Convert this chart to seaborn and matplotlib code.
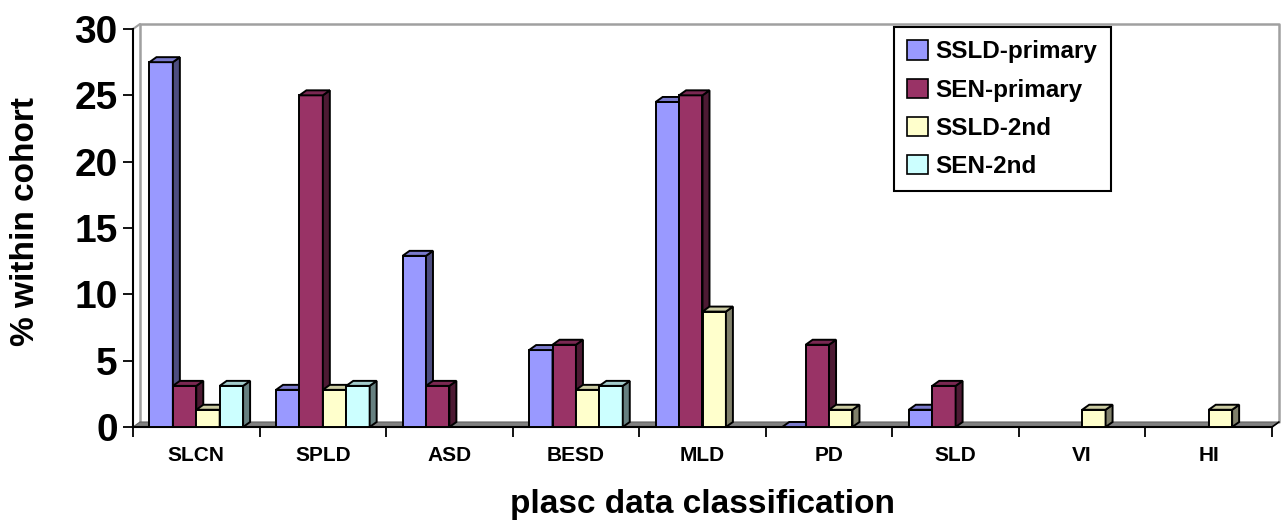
import numpy as np
import pandas as pd
import matplotlib
matplotlib.use("Agg")
import matplotlib.pyplot as plt
import seaborn as sns
from matplotlib.patches import Polygon

nan = np.nan
categories = ["SLCN", "SPLD", "ASD", "BESD", "MLD", "PD", "SLD", "VI", "HI"]
series = ["SSLD-primary", "SEN-primary", "SSLD-2nd", "SEN-2nd"]
ssld_primary = [27.5, 2.8, 12.9, 5.8, 24.5, 0.0, 1.3, nan, nan]
sen_primary = [3.1, 25.0, 3.1, 6.2, 25.0, 6.2, 3.1, nan, nan]
ssld_2nd = [1.3, 2.8, nan, 2.8, 8.7, 1.3, nan, 1.3, 1.3]
sen_2nd = [3.1, 3.1, nan, 3.1, nan, nan, nan, nan, nan]
y_ticks = [0, 5, 10, 15, 20, 25, 30]

front_colors = ["#9999FF", "#993366", "#FFFFCC", "#CCFFFF"]
side_colors = ["#4D4D80", "#4D1A33", "#80806A", "#668080"]
top_colors = ["#7A7ACC", "#7A2852", "#CCCCA3", "#A3CCCC"]

rows = []
for s, vals in zip(series, [ssld_primary, sen_primary, ssld_2nd, sen_2nd]):
    for c, v in zip(categories, vals):
        if not np.isnan(v):
            rows.append({"category": c, "series": s, "value": v})
df = pd.DataFrame(rows)

sns.set_theme(style="white")
plt.rcParams["font.family"] = ["Liberation Sans", "DejaVu Sans"]
plt.rcParams["font.weight"] = "bold"
for key in ["text.color", "axes.labelcolor", "xtick.color", "ytick.color"]:
    plt.rcParams[key] = "black"

W, H, DPI = 1281, 522, 100
fig = plt.figure(figsize=(W / DPI, H / DPI), dpi=DPI)
ax_l, ax_r, ax_b, ax_t = 133, 1272, 427, 29
ax = fig.add_axes([ax_l / W, (H - ax_b) / H, (ax_r - ax_l) / W, (ax_b - ax_t) / H])

sns.barplot(data=df, x="category", y="value", hue="series", order=categories,
            hue_order=series, palette=dict(zip(series, front_colors)),
            width=0.74, errorbar=None, saturation=1, edgecolor="black",
            linewidth=1.4, ax=ax, legend=True)

ax.set_xlim(-0.5, len(categories) - 0.5)
ax.set_ylim(0, 30)

# pixel -> data conversions for the 3D effect
xu = (len(categories)) / (ax_r - ax_l)
yu = 30.0 / (ax_b - ax_t)
dx, dy = 7 * xu, 5 * yu

# floor and back walls
x0, x1 = -0.5, len(categories) - 0.5
ax.add_patch(Polygon([(x0, 0), (x1, 0), (x1 + dx, dy), (x0 + dx, dy)],
                     closed=True, facecolor="#808080", edgecolor="#606060",
                     linewidth=0.8, zorder=1, clip_on=False))
ax.plot([x0 + dx, x0 + dx, x1 + dx, x1 + dx], [dy, 30 + dy, 30 + dy, dy],
        color="#A0A0A0", linewidth=1.8, zorder=0.9, clip_on=False)
ax.plot([x0, x0 + dx], [30, 30 + dy], color="#A0A0A0", linewidth=1.5,
        zorder=0.9, clip_on=False)
ax.plot([x1, x1 + dx], [0, dy], color="black", linewidth=1.2, zorder=1.2,
        clip_on=False)

for k, cont in enumerate(ax.containers):
    for p in cont.patches:
        bx, bw, bh = p.get_x(), p.get_width(), p.get_height()
        p.set_zorder(2 + k)
        side = Polygon([(bx + bw, 0), (bx + bw + dx, dy), (bx + bw + dx, bh + dy), (bx + bw, bh)],
                       closed=True, facecolor=side_colors[k], edgecolor="black",
                       linewidth=1.4, zorder=2 + k + 0.5, clip_on=False)
        top = Polygon([(bx, bh), (bx + dx, bh + dy), (bx + bw + dx, bh + dy), (bx + bw, bh)],
                      closed=True, facecolor=top_colors[k], edgecolor="black",
                      linewidth=1.4, zorder=2 + k + 0.5, clip_on=False)
        ax.add_patch(side)
        ax.add_patch(top)

# axes styling
for sp in ["top", "right"]:
    ax.spines[sp].set_visible(False)
for sp in ["left", "bottom"]:
    ax.spines[sp].set_color("black")
    ax.spines[sp].set_linewidth(1.5)
    ax.spines[sp].set_zorder(1.5)

ax.set_yticks(y_ticks)
ax.set_yticklabels([str(t) for t in y_ticks], fontsize=28, fontweight="bold")
ax.tick_params(axis="y", which="major", direction="out", length=7, width=1.3,
               color="black", left=True, pad=4)
ax.set_xticks(range(len(categories)))
ax.set_xticklabels(categories, fontsize=15, fontweight="bold")
ax.set_xticks(np.arange(-0.5, len(categories), 1.0), minor=True)
ax.tick_params(axis="x", which="major", length=0, pad=14)
ax.tick_params(axis="x", which="minor", direction="out", length=7, width=1.3,
               color="black", bottom=True)

ax.set_xlabel("plasc data classification", fontsize=24, fontweight="bold", va="center")
ax.xaxis.set_label_coords(0.5, (ax_b - 505) / (ax_b - ax_t))
ax.set_ylabel("% within cohort", fontsize=24, fontweight="bold", va="center")
ax.yaxis.set_label_coords((26 - ax_l) / (ax_r - ax_l), (ax_b - 222) / (ax_b - ax_t))
ax.grid(False)

handles, labels = ax.get_legend_handles_labels()
leg = ax.legend(handles, labels, loc="upper left",
                bbox_to_anchor=(894 / W, (H - 27) / H), bbox_transform=fig.transFigure,
                borderaxespad=0, frameon=True, fancybox=False, framealpha=1,
                edgecolor="black", handlelength=0.85, handleheight=0.85,
                handletextpad=0.3, labelspacing=0.62, borderpad=0.55,
                prop={"weight": "bold", "size": 17.5})
leg.get_frame().set_linewidth(1.5)
for h in leg.legend_handles:
    h.set_edgecolor("black")
    h.set_linewidth(1.2)
leg.set_zorder(20)

fig.savefig("out.png", dpi=DPI)
